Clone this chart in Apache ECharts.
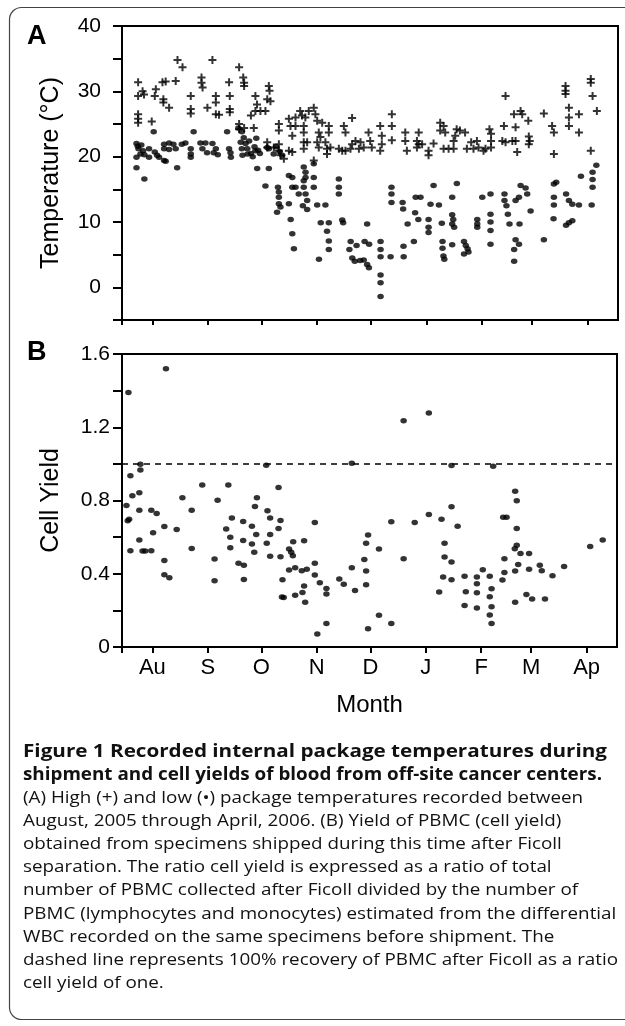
<!DOCTYPE html>
<html>
<head>
<meta charset="utf-8">
<title>Package temperatures and cell yield</title>
<script src="https://cdn.jsdelivr.net/npm/echarts@6/dist/echarts.min.js"></script>
<style>
  html, body { margin: 0; padding: 0; background: #fff; }
  #chart { width: 625px; height: 1026px; }
</style>
</head>
<body>
<div id="chart"></div>
<script>
// x values are days counted from 1 Aug 2005
const monthTicks = [0, 31, 61, 92, 122, 153, 184, 212, 243];
const monthLabels = ['Au', 'S', 'O', 'N', 'D', 'J', 'F', 'M', 'Ap'];
const dayMin = -17;
const dayMax = 260;

// high package temperature (+), [day, °C]
const highTemps = [
  [14, 34.8], [16.8, 33.7], [33.5, 34.8], [48.4, 33.7],
  [-8, 31.4], [5.6, 31.4], [7.4, 31.5], [13, 31.6], [27.4, 32.1], [27.4, 31.3], [28, 30.6], [42.8, 31.4],
  [50.7, 32.1], [51.2, 31.3], [51.2, 30.8],
  [-8, 29.3], [-4.7, 29.5], [-5.5, 30], [1.9, 30.3], [1.3, 29.3], [6.1, 28.8], [6.1, 28.3], [9.3, 27.5],
  [21.4, 29.3], [35.4, 29.3], [43.2, 29.3],
  [21.4, 27.3], [21.4, 26.6], [30.7, 27.5], [35.4, 28.3], [35.4, 26.5], [37.2, 26.4], [43.2, 27.3], [43.2, 26.8],
  [-8, 26.5], [-8, 25.8], [-8, 25.2], [-0.4, 25.4], [48.4, 25], [48.4, 24.2], [51.2, 24.4], [55, 26.3],
  [65, 30.8], [65.4, 30.1], [64.1, 28.8], [65.9, 28.5], [57.5, 29.3], [58.4, 28], [57.5, 27], [60.3, 27],
  [63.1, 27], [56.6, 24.4], [64.1, 22.2], [64.1, 21.4], [67.8, 21.4],
  [70.6, 25], [70.6, 24], [76.2, 25.8], [77.1, 24.7], [78.1, 23.2], [79.9, 26], [79.9, 24.7], [82.5, 27],
  [83.5, 26.3], [85.4, 26], [84.5, 24.7], [84.5, 23.7], [87.3, 27], [90.1, 27.5], [91, 26.5], [92, 25.5],
  [92.9, 23.7], [93.8, 23], [94.8, 25.2], [98.5, 24.7], [98.5, 23.7], [106.9, 24.7], [107.8, 23.7], [111.5, 25.9],
  [70.6, 21.9], [70.6, 20.9], [71.5, 20.2], [73.4, 19.7], [76.2, 20.9], [78.1, 20.7], [84.5, 22.2], [84.5, 21.2],
  [86.4, 22.2], [92, 22.2], [92.9, 21.4], [96.6, 22.2], [97.5, 21.2], [97.5, 20.4], [99.4, 21.4], [104.1, 21.2],
  [106, 20.9], [107.8, 20.9], [110.6, 21.2], [111.5, 21.9], [113.4, 22.4], [115.3, 21.2], [116.2, 22.2], [118, 21.4],
  [90.1, 19.4],
  [133.7, 26.5], [133.7, 24.7], [133.7, 22.5], [127.2, 24.7], [128.1, 23.2], [128.1, 21.9], [127.2, 20.9],
  [120.7, 23.7], [121.6, 22.4], [122.5, 21.4],
  [141.2, 23.7], [141.2, 22.4], [142.1, 20.9], [148.7, 23.7], [147.7, 22.4], [148.7, 21.9], [147.7, 21.4], [150.6, 21.9],
  [154.2, 20.9], [154.2, 20.2], [157, 22], [160.7, 25.2], [162.6, 24.7], [160.7, 24], [163.5, 23.7], [162.6, 21.2],
  [165.4, 21.2], [169.9, 24.2], [169.1, 23.2], [168.2, 22.4], [168.2, 21.2], [171.7, 24],
  [174.6, 23.7], [175.6, 21.2], [178, 22.2], [179.3, 21.2], [181.2, 22.4], [182.1, 21.4], [184.9, 20.9],
  [186, 21.2], [188.2, 24.2], [189.1, 23.5], [189.1, 22.4], [189.1, 21.4],
  [197.2, 29.3], [196.3, 24.7], [195.4, 22.4], [197.2, 22.2], [201, 22.4], [201.9, 26.5], [202.8, 24.5],
  [202.8, 22.4], [203.7, 20.7], [205.6, 27], [206.5, 26.5], [209.9, 25.5], [210.2, 23.1], [210.7, 22.4], [210.2, 21.9],
  [218.6, 26.6], [223.2, 24.7], [224.2, 23.7], [224.2, 20.4],
  [230.7, 30.8], [230.7, 30.1], [230.7, 29.6], [232.6, 27.5], [232.6, 26], [232.6, 24.7], [238.2, 26.5], [238.2, 23.7],
  [244.8, 31.9], [244.8, 31.3], [245.8, 29.3], [248.2, 27], [244.8, 20.9]
];

// low package temperature (•), [day, °C]
const lowTemps = [
  [-8.9, 22], [-8.2, 21.6], [-7.8, 21.2], [-6.7, 20.4], [-8.9, 19.9], [-5.2, 20.9], [-6.2, 21.8], [-4.5, 20.3],
  [-1.9, 21.2], [-1.9, 19.9], [0.7, 23.8], [1.3, 20.7], [2.6, 20.2], [3.7, 19.9], [6.5, 21.9], [6.5, 21.2],
  [7.4, 19.3], [6.5, 19.4], [9.3, 22.1], [9.3, 21.1], [11.7, 21.9], [13, 21.2], [16.4, 21.9], [18.4, 22.1],
  [21.4, 21.2], [21.4, 20.4], [21.4, 19.9], [23, 23.8], [26.8, 22.1], [27.9, 21.2], [29.6, 22.1], [30.5, 20.6],
  [33.5, 22], [34.2, 20.6], [35.4, 21.2], [36.5, 20.3], [41.7, 23.8], [42.8, 21.2], [43.6, 20.6], [43.8, 19.9],
  [48, 24.4], [50, 23.8], [49.3, 22.2], [51, 22.9], [52, 22], [49.9, 21.2], [53, 21.2], [50.3, 20.2],
  [55, 20.5], [56, 20], [53.1, 20.4], [54, 22.4],
  [-8.9, 18.3], [-4.5, 16.6], [13.8, 18.3],
  [57.5, 20.9], [57, 21.5], [58, 22.8], [59, 21], [60, 20.5], [64.1, 21.4], [65, 21.2], [67.7, 20.4],
  [69, 21.5], [71, 20.8], [72.5, 20.2],
  [58.5, 18.2], [65, 18.2],
  [63.1, 15.5], [70.1, 15.3], [70.6, 14.6], [70.6, 13.8], [70.6, 12.8], [71.5, 12.3], [69.6, 11.5],
  [76.2, 17.1], [78.1, 16.8], [78.1, 15.3], [79.9, 15.3],
  [81.7, 14.3], [76.2, 12.8], [77.2, 10.4], [78.1, 8.2], [79, 5.9],
  [84.5, 18.4], [85.5, 17.6], [85.5, 16.8], [84.5, 16.3], [84.5, 15.3], [85.5, 14.3], [86.4, 13.3], [86.4, 11.9], [84, 12.5],
  [90.1, 18.9], [90.1, 16.8], [90.1, 15.3],
  [92, 12.6], [96.6, 12.6], [94, 9.9], [98.5, 9.9], [97.5, 8.6], [98.5, 7.1], [98.5, 5.8], [93, 4.3],
  [104.1, 16.6], [104.1, 15.3], [104.1, 14.3],
  [106, 10.3], [106.5, 9.9], [110.7, 7], [110, 5.8], [111.6, 4.5], [113, 4], [116, 4.1], [119.9, 9.7],
  [118, 4.2], [119.9, 3.5], [120.9, 3], [118.5, 7], [121, 6.6], [114, 6.4],
  [127.4, 7], [127.4, 5.8], [127.4, 4.7], [127.4, 1.9], [127.4, 0.7], [127.4, -1.4],
  [133, 4.7], [140.3, 4.7], [133.5, 15.3], [133.5, 14.3], [133.5, 13],
  [139.7, 13], [140, 12], [140.2, 6.3], [146, 7], [142.5, 9.7], [146.7, 11.4], [148.5, 10.4],
  [154.2, 10.4], [154.2, 9.2], [154.2, 8.4], [147, 13.8], [149.7, 13.8], [155.3, 12.7], [157, 15.6], [160, 12.6], [161.6, 9.8],
  [162, 7], [162, 6], [163, 4.3], [162.5, 4.8],
  [167.4, 13.8], [167.4, 11.1], [168, 10.4], [167.4, 9.7], [168.5, 9.2], [170, 15.9], [167.4, 6.5],
  [174, 7], [175, 6.4], [176, 5.9], [176.5, 5.4], [174, 5.1],
  [181.4, 10.4], [181.4, 9.7], [181.4, 9.2], [184.2, 13.8],
  [188.8, 14.3], [188.8, 11.2], [188.8, 10], [188.8, 8.7], [188.8, 6.6],
  [196.6, 14.3], [196.6, 13.3], [197.7, 12.5], [198.5, 11.2], [202.8, 13.3], [199.4, 9.7], [205, 9.7],
  [202.8, 7.3], [204.7, 6.6], [202, 5.8], [202, 4],
  [205.6, 15.6], [208.4, 15.2], [209.3, 14.3], [204.7, 13.8], [211.2, 11.7],
  [218.6, 7.3],
  [224.2, 15.8], [225.5, 16.1], [224.2, 13.8], [224.2, 12.6], [224, 10.5],
  [231, 14.3], [232.6, 13.3], [234.5, 12.7], [232.6, 9.9], [231, 9.5], [234.5, 10.2],
  [238.2, 12.6], [239.3, 17],
  [245.8, 15.3], [245.8, 16.5], [245.8, 17.6], [245.3, 12.6], [247.9, 18.7]
];

// cell yield (ratio), [day, yield]
const cellYield = [
  [-13.4, 1.39], [7.6, 1.52], [-6.7, 0.998], [-12.3, 0.935], [-6.7, 0.966], [-11.2, 0.826], [-7.3, 0.842],
  [-14.5, 0.773], [-13, 0.697], [-13.8, 0.69], [-7.3, 0.747], [-0.6, 0.747], [2.4, 0.729], [0.4, 0.624],
  [-7.3, 0.584], [-12.3, 0.525], [-5.5, 0.524], [-4, 0.524], [-0.6, 0.525], [6.7, 0.658], [6.7, 0.473],
  [6.7, 0.395], [9.5, 0.378], [13.6, 0.642], [16.8, 0.815], [22, 0.747], [22, 0.538], [27.9, 0.884],
  [34.8, 0.48], [34.8, 0.362], [36.5, 0.802], [42.5, 0.884], [44.5, 0.704], [41.3, 0.644], [43.6, 0.6],
  [43.6, 0.542], [48.2, 0.458], [51.2, 0.447], [51.2, 0.369], [50.8, 0.686], [50.8, 0.582], [55.7, 0.66],
  [55.7, 0.562], [57, 0.518], [58.1, 0.615], [57.4, 0.767], [58.5, 0.815], [63.7, 0.993], [64.4, 0.744],
  [65.9, 0.704], [65.9, 0.615], [64, 0.566], [65.9, 0.495], [70.6, 0.871], [71.7, 0.691], [70.6, 0.647],
  [71.7, 0.493], [72.8, 0.367], [72.5, 0.273], [73.5, 0.27],
  [140.6, 1.235], [154.7, 1.278], [111.6, 1.004], [167.4, 0.991], [167.4, 0.766], [90.9, 0.68], [133.7, 0.684],
  [146.8, 0.68], [154.7, 0.724], [161.8, 0.698], [78.8, 0.575], [84.9, 0.58], [76.5, 0.535], [77.7, 0.517],
  [78.6, 0.498], [76.5, 0.42], [79.9, 0.433], [83.6, 0.416], [86.4, 0.425], [79.9, 0.282], [84, 0.298],
  [84.9, 0.333], [85.5, 0.244], [90.9, 0.458], [90.9, 0.393], [93.7, 0.351], [97.4, 0.32], [97.4, 0.289],
  [92.3, 0.071], [97.4, 0.129], [104.6, 0.371], [107.1, 0.342], [113.4, 0.309], [111.6, 0.433], [118.6, 0.478],
  [119.6, 0.415], [119.6, 0.34], [119.6, 0.566], [120.7, 0.611], [120.7, 0.1], [126.8, 0.535], [126.8, 0.173],
  [133.7, 0.129], [140.6, 0.482], [163.5, 0.566], [163.5, 0.491], [167.4, 0.464], [162.7, 0.382], [167.4, 0.367],
  [160.5, 0.3],
  [190.7, 0.987], [170.8, 0.66], [203, 0.851], [203.9, 0.798], [196.3, 0.708], [198.2, 0.708], [203.9, 0.647],
  [203.9, 0.556], [202.8, 0.536], [206, 0.511], [210.8, 0.511], [197, 0.482], [204.7, 0.451], [203, 0.415],
  [197, 0.407], [195.9, 0.366], [210.8, 0.425], [216.8, 0.447], [217.9, 0.416], [223.9, 0.389], [230.4, 0.44],
  [209.3, 0.287], [212.5, 0.262], [219.7, 0.262], [203, 0.245], [184.9, 0.422], [188.8, 0.386], [181.6, 0.382],
  [174.7, 0.386], [181.6, 0.345], [189.8, 0.318], [175.4, 0.302], [181.6, 0.296], [188.8, 0.275], [174.7, 0.227],
  [181.6, 0.213], [189.8, 0.22], [188.8, 0.175], [189.8, 0.129], [245, 0.549], [252, 0.584]
];

const fullRecovery = 1;

const captionLines = [
  'Figure 1 Recorded internal package temperatures during',
  'shipment and cell yields of blood from off-site cancer centers.',
  '(A) High (+) and low (\u2022) package temperatures recorded between',
  'August, 2005 through April, 2006. (B) Yield of PBMC (cell yield)',
  'obtained from specimens shipped during this time after Ficoll',
  'separation. The ratio cell yield is expressed as a ratio of total',
  'number of PBMC collected after Ficoll divided by the number of',
  'PBMC (lymphocytes and monocytes) estimated from the differential',
  'WBC recorded on the same specimens before shipment. The',
  'dashed line represents 100% recovery of PBMC after Ficoll as a ratio',
  'cell yield of one.'
];
// right edge of each caption line in the figure (layout only)
const captionRight = [607, 602, 598, 566, 562, 549, 585, 612, 554, 614, 168];

const axisFont = 'Liberation Sans';
const plusPath = 'path://M0,3H8V5H0Z M3,0H5V8H3Z';
const black = '#000';

// measure caption lines so they fill the same width as in the figure
const measureCtx = document.createElement('canvas').getContext('2d');
const capLeft = 23;
const capTop = 752;
const capStep = 23.1;
const boldFont = 'bold 17px "Open Sans"';
const normFont = '17px "Open Sans"';
const ratios = captionLines.map((t, i) => {
  measureCtx.font = i < 2 ? boldFont : normFont;
  return (captionRight[i] - capLeft) / measureCtx.measureText(t).width;
});
const normRatios = ratios.slice(2, 10).sort((a, b) => a - b);
const normScale = (normRatios[3] + normRatios[4]) / 2;

const captionGraphics = captionLines.map((t, i) => ({
  type: 'text',
  x: capLeft,
  y: capTop + i * capStep,
  scaleX: i < 2 ? Math.min(1.25, Math.max(0.8, ratios[i])) : normScale,
  silent: true,
  style: {
    text: t,
    font: i < 2 ? boldFont : normFont,
    fill: '#111',
    verticalAlign: 'middle',
    textVerticalAlign: 'middle'
  }
}));

const chart = echarts.init(document.getElementById('chart'));

const axisLineStyle = { color: black, width: 2 };

const option = {
  animation: false,
  textStyle: { fontFamily: axisFont, color: black },
  grid: [
    { left: 122, top: 26, width: 496, height: 294, show: true, borderColor: black, borderWidth: 2 },
    { left: 122, top: 354, width: 495, height: 293, show: true, borderColor: black, borderWidth: 2 }
  ],
  xAxis: [
    {
      gridIndex: 0,
      type: 'value',
      min: dayMin,
      max: dayMax,
      axisLine: { onZero: false, lineStyle: axisLineStyle },
      axisTick: { customValues: [dayMin].concat(monthTicks), length: 5, lineStyle: axisLineStyle },
      axisLabel: { show: false },
      splitLine: { show: false }
    },
    {
      gridIndex: 1,
      type: 'value',
      min: dayMin,
      max: dayMax,
      axisLine: { onZero: false, lineStyle: axisLineStyle },
      axisTick: { customValues: [dayMin].concat(monthTicks), length: 6, lineStyle: axisLineStyle },
      axisLabel: {
        customValues: monthTicks,
        formatter: v => {
          const k = monthTicks.indexOf(v);
          return k < 0 ? '' : monthLabels[k];
        },
        fontSize: 22,
        color: black,
        margin: 10
      },
      splitLine: { show: false },
      name: 'Month',
      nameLocation: 'middle',
      nameGap: 46,
      nameTextStyle: { fontSize: 24, color: black }
    }
  ],
  yAxis: [
    {
      gridIndex: 0,
      type: 'value',
      min: -5,
      max: 40,
      interval: 5,
      axisLine: { show: true, onZero: false, lineStyle: axisLineStyle },
      axisTick: { show: true, length: 9, lineStyle: axisLineStyle },
      axisLabel: {
        formatter: v => (v % 10 === 0 ? String(v) : ''),
        fontSize: 21,
        color: black,
        margin: 21
      },
      splitLine: { show: false },
      name: 'Temperature (\u00B0C)',
      nameLocation: 'middle',
      nameRotate: 90,
      nameGap: 58,
      nameTextStyle: { fontSize: 25, color: black }
    },
    {
      gridIndex: 1,
      type: 'value',
      min: 0,
      max: 1.6,
      interval: 0.2,
      axisLine: { show: true, onZero: false, lineStyle: axisLineStyle },
      axisTick: { show: true, length: 9, lineStyle: axisLineStyle },
      axisLabel: {
        formatter: v => {
          const k = Math.round(v * 10);
          if (k % 4 !== 0) return '';
          return k === 0 ? '0' : (k / 10).toFixed(1);
        },
        fontSize: 21,
        color: black,
        margin: 12
      },
      splitLine: { show: false },
      name: 'Cell Yield',
      nameLocation: 'middle',
      nameRotate: 90,
      nameGap: 58,
      nameTextStyle: { fontSize: 25, color: black }
    }
  ],
  series: [
    {
      name: 'High',
      type: 'scatter',
      xAxisIndex: 0,
      yAxisIndex: 0,
      symbol: plusPath,
      symbolSize: 8,
      itemStyle: { color: black },
      silent: true,
      data: highTemps
    },
    {
      name: 'Low',
      type: 'scatter',
      xAxisIndex: 0,
      yAxisIndex: 0,
      symbol: 'circle',
      symbolSize: [6.5, 5.5],
      itemStyle: { color: black },
      silent: true,
      data: lowTemps
    },
    {
      name: 'Cell yield',
      type: 'scatter',
      xAxisIndex: 1,
      yAxisIndex: 1,
      symbol: 'circle',
      symbolSize: [6.5, 5.5],
      itemStyle: { color: black },
      silent: true,
      data: cellYield,
      markLine: {
        silent: true,
        symbol: 'none',
        label: { show: false },
        lineStyle: { type: [6, 5], color: black, width: 1.5 },
        data: [{ yAxis: fullRecovery }]
      }
    }
  ],
  graphic: [
    {
      type: 'rect',
      silent: true,
      z: -10,
      shape: { x: 9.5, y: 7.5, width: 640, height: 1012, r: 12 },
      style: { fill: 'none', stroke: '#444', lineWidth: 1.2 }
    },
    {
      type: 'text', x: 27, y: 37, silent: true,
      style: { text: 'A', font: 'bold 27px "Liberation Sans"', fill: black, verticalAlign: 'middle', textVerticalAlign: 'middle' }
    },
    {
      type: 'text', x: 27, y: 353, silent: true,
      style: { text: 'B', font: 'bold 27px "Liberation Sans"', fill: black, verticalAlign: 'middle', textVerticalAlign: 'middle' }
    }
  ].concat(captionGraphics)
};

chart.setOption(option);
window.onresize = function () {
  chart.resize();
};
</script>
</body>
</html>
